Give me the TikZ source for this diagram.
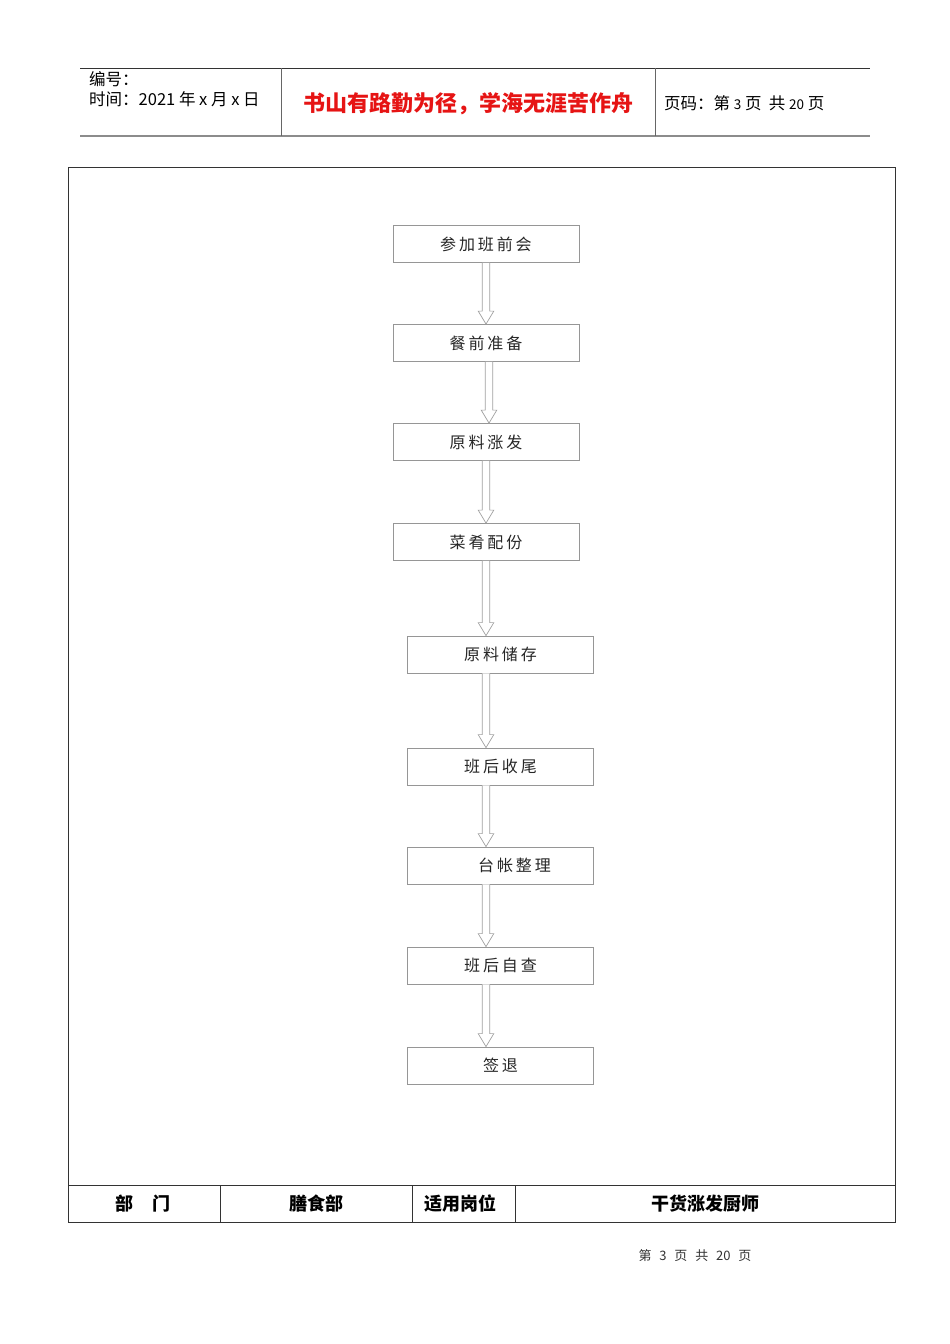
\documentclass[tikz,border=0pt]{standalone}
\usepackage{fontspec}
\setmainfont{Liberation Sans}
\newfontfamily\cjk{Noto Sans CJK SC}
\newfontfamily\cjkbox[LetterSpace=18]{Noto Sans CJK SC}
\usetikzlibrary{calc}
\definecolor{boxgray}{RGB}{150,150,150}
\definecolor{arrowgray}{RGB}{160,160,160}
\definecolor{titlered}{RGB}{230,20,20}
\tikzset{
  stepbox/.style={draw=boxgray, line width=0.8pt, minimum width=186pt, minimum height=37pt, inner sep=0pt, font=\cjkbox\fontsize{16}{18}\selectfont, text=black!85},
  hollowarrow/.style={draw=arrowgray, line width=0.7pt, fill=white},
  frameline/.style={draw=black!80, line width=0.8pt},
  celltext/.style={font=\cjk\bfseries\fontsize{18}{20}\selectfont, anchor=center},
  headtext/.style={anchor=west, inner sep=0pt, font=\cjk\fontsize{16.5}{18}\selectfont},
}
% #1 from node, #2 to node, #3 x position
\newcommand\blockarr[3]{%
  \draw[hollowarrow] let \p1=(#1.south), \p2=(#2.north) in
    (#3-3.8,\y1) -- (#3-3.8,\y2+13) -- (#3-7.8,\y2+13) -- (#3,\y2) -- (#3+7.8,\y2+13) -- (#3+3.8,\y2+13) -- (#3+3.8,\y1);
}
\begin{document}
\begin{tikzpicture}[x=1pt,y=-1pt]
\useasboundingbox (0,0) rectangle (950,1344);
\fill[white] (0,0) rectangle (950,1344);
% header
\draw[black!80, line width=0.8pt] (80,68) -- (870,68);
\draw[black!45, line width=2pt] (80,136) -- (870,136);
\draw[black!60, line width=0.8pt] (281,68) -- (281,136);
\draw[black!60, line width=0.8pt] (655,68) -- (655,136);
\node[headtext] (hnum) at (89,79) {编号：};
\node[headtext] (hdate) at (89,99) {时间：2021 年 x 月 x 日};
\node[inner sep=0pt, font=\cjk\bfseries\fontsize{22}{24}\selectfont, text=titlered] (htitle) at (468,104) {书山有路勤为径，学海无涯苦作舟};
\node[headtext] (hpage) at (664,103) {页码：第 {\fontsize{13.5}{14}\selectfont 3} 页\ \ 共 {\fontsize{13.5}{14}\selectfont 20} 页};
% main frame
\draw[frameline] (68,167) rectangle (895,1222);
\draw[frameline] (68,1185) -- (895,1185);
\draw[frameline] (220,1185) -- (220,1222);
\draw[frameline] (412,1185) -- (412,1222);
\draw[frameline] (515,1185) -- (515,1222);
\node[celltext] (c1) at (143,1204) {部\hspace{1.1em}门};
\node[celltext] (c2) at (316,1204) {膳食部};
\node[celltext] (c3) at (460,1204) {适用岗位};
\node[celltext] (c4) at (705,1204) {干货涨发厨师};
% flow boxes
\node[stepbox] (b1) at (486,244) {参加班前会};
\node[stepbox] (b2) at (486,343) {餐前准备};
\node[stepbox] (b3) at (486,442) {原料涨发};
\node[stepbox] (b4) at (486,542) {菜肴配份};
\node[stepbox] (b5) at (500.5,654.5) {原料储存};
\node[stepbox] (b6) at (500.5,766.5) {班后收尾};
\node[stepbox] (b7) at (500.5,865.5) {\hspace{28pt}台帐整理};
\node[stepbox] (b8) at (500.5,965.5) {班后自查};
\node[stepbox] (b9) at (500.5,1065.5) {签退};
% arrows
\blockarr{b1}{b2}{486}
\blockarr{b2}{b3}{489}
\blockarr{b3}{b4}{486}
\blockarr{b4}{b5}{486}
\blockarr{b5}{b6}{486}
\blockarr{b6}{b7}{486}
\blockarr{b7}{b8}{486}
\blockarr{b8}{b9}{486}
% footer
\node[inner sep=0pt, font=\cjk\fontsize{13}{15}\selectfont, text=black!80] (foot) at (695,1256) {第\hspace{0.6em}3\hspace{0.6em}页\hspace{0.6em}共\hspace{0.6em}20\hspace{0.6em}页};
\end{tikzpicture}
\end{document}
